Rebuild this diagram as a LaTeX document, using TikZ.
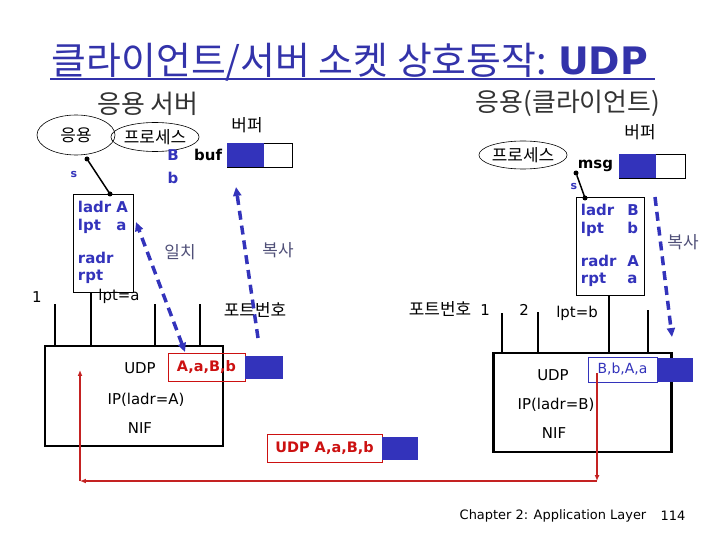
\documentclass[tikz,border=0pt]{standalone}
\usepackage{fontspec}
\setmainfont{DejaVu Sans}
\newfontfamily\kr{Noto Sans CJK KR}
\usetikzlibrary{positioning, arrows.meta, shapes.geometric}
\definecolor{ttl}{HTML}{3333AA}
\definecolor{sock}{HTML}{3333BB}
\definecolor{pkt}{HTML}{CC1111}
\definecolor{wirec}{HTML}{C42222}
\definecolor{note}{HTML}{505078}

\begin{document}
\begin{tikzpicture}[
  x=1bp, y=-1bp,
  every node/.style={inner sep=0pt, outer sep=0pt},
  kor/.style={font=\kr\fontsize{17}{17}\selectfont},
  head/.style={font=\kr\fontsize{26}{26}\selectfont, text=black!80},
  proc/.style={ellipse, draw, line width=0.6pt, kor},
  buffer/.style={rectangle, draw, line width=0.8pt, minimum height=24bp},
  lbl/.style={font=\bfseries\fontsize{15}{18}\selectfont, text=sock},
  plain/.style={font=\fontsize{15}{15}\selectfont},
  sockbox/.style={rectangle, draw, line width=0.9pt, lbl, align=left},
  stack/.style={rectangle, draw, line width=3pt, minimum width=178bp},
  port/.style={line width=1.3pt},
  redpkt/.style={rectangle, draw=pkt, line width=1pt, text=pkt,
    font=\bfseries\fontsize{14.5}{14.5}\selectfont, minimum height=28bp},
  payload/.style={rectangle, fill=sock, minimum height=23bp},
  flow/.style={draw=sock, line width=3.5pt, dash pattern=on 9pt off 6pt,
    -{Triangle[length=9pt,width=8pt]}},
  wire/.style={draw=wirec, line width=1.4pt, -{Latex[length=6pt,width=5pt]}},
  dot/.style={circle, fill, minimum size=6bp},
]
\useasboundingbox (0,0) rectangle (720,540);

% title
\node[font=\kr\fontsize{38}{38}\selectfont, text=ttl] (title) at (350,62)
  {클라이언트/서버 소켓 상호동작: {\normalfont\bfseries UDP}};
\draw[ttl, line width=2.5pt] (50,79) -- (655,79);

% server side
\node[head] (srvhead) at (148,104) {응용 서버};
\node[proc, minimum width=78bp, minimum height=40bp] (app) at (76,135) {응용};
\node[proc, minimum width=76bp, minimum height=29bp] (lproc) at (155,137) {프로세스};
\node[kor] (lbuflbl) at (247,125) {버퍼};
\node[buffer, minimum width=65bp] (lbuf) at (259.5,155) {};
\fill[sock] (lbuf.north west) rectangle ([xshift=37bp]lbuf.south west);
\node[font=\bfseries\fontsize{15}{15}\selectfont, left=5pt of lbuf] (lbufname) {buf};
\node[lbl] (bigb) at (173,155) {B};
\node[lbl] (smallb) at (173,178) {b};
\node[lbl, font=\bfseries\fontsize{11}{11}\selectfont] (ls) at (74,175) {s};

\node[sockbox, minimum width=60bp, minimum height=98bp] (lsock) at (103,243)
  {\begin{tabular}{@{}l@{\hspace{3pt}}l@{}}ladr&A\\lpt&a\\[15pt]radr&\\rpt&\end{tabular}};
\node[dot, minimum size=5bp] (ldot) at (87,159) {};
\coordinate (ltop) at (110,194);
\draw[line width=1.5pt] (ldot) -- (ltop);
\fill (ltop) circle (2.5bp);

\node[stack, minimum height=100bp] (lstack) at (134,396) {};
\node[plain] (ludp) at (140,368) {UDP};
\node[plain] (lip) at (146,400) {IP(ladr=A)};
\node[plain] (lnif) at (140,428) {NIF};

\draw[port] (55,304) -- (55,304 |- lstack.north);
\draw[port] (91,0 |- lsock.south) -- (91,0 |- lstack.north);
\draw[port] (155,304) -- (155,304 |- lstack.north);
\draw[port] (200,304) -- (200,304 |- lstack.north);
\node[plain] (lone) at (37,297) {1};
\node[plain] (llpt) at (119,296) {lpt=a};
\node[kor] (lportlbl) at (255,310) {포트번호};

\node[redpkt, minimum width=77bp] (lpkt) at (206.5,367) {A,a,B,b};
\node[payload, minimum width=38bp, anchor=west] (lpay) at (lpkt.east) {};

\coordinate (matchlo) at (185,352);
\coordinate (matchhi) at (136,222);
\draw[flow, {Triangle[length=9pt,width=8pt]}-{Triangle[length=9pt,width=8pt]}] (matchlo) -- (matchhi);
\node[kor, text=note] (match) at (180,252) {일치};

\coordinate (lcopylo) at (258,338);
\coordinate (lcopyhi) at (236,187);
\draw[flow] (lcopylo) -- (lcopyhi);
\node[kor, text=note] (lcopy) at (278,250) {복사};

% packet on the wire
\node[redpkt, minimum width=115bp] (mpkt) at (324.5,448) {UDP A,a,B,b};
\node[payload, minimum width=36bp, anchor=west] (mpay) at (mpkt.east) {};

% client side
\node[head] (clihead) at (568,103) {응용(클라이언트)};
\node[kor] (rbuflbl) at (640,132) {버퍼};
\node[proc, minimum width=83bp, minimum height=28bp] (rproc) at (523,155) {프로세스};
\node[buffer, minimum width=66bp] (rbuf) at (652,166) {};
\fill[sock] (rbuf.north west) rectangle ([xshift=37bp]rbuf.south west);
\node[font=\bfseries\fontsize{15}{15}\selectfont, left=6pt of rbuf] (rbufname) {msg};
\node[lbl, font=\bfseries\fontsize{11}{11}\selectfont] (rs) at (574,187) {s};

\node[sockbox, minimum width=68bp, minimum height=98bp] (rsock) at (610,246)
  {\begin{tabular}{@{}l@{\hspace{11pt}}l@{}}ladr&B\\lpt&b\\[15pt]radr&A\\rpt&a\end{tabular}};
\node[dot, minimum size=5bp] (rdot) at (576,173) {};
\coordinate (rtop) at (585,198);
\draw[line width=1.5pt] (rdot) -- (rtop);
\fill (rtop) circle (2.5bp);

\node[stack, minimum height=99bp] (rstack) at (582,402.5) {};
\node[plain] (rudp) at (553,375) {UDP};
\node[plain] (rip) at (556,405) {IP(ladr=B)};
\node[plain] (rnif) at (554,433) {NIF};

\draw[port] (502,313) -- (502,313 |- rstack.north);
\draw[port] (538,312) -- (538,312 |- rstack.north);
\draw[port, line width=2.5pt] (609,0 |- rsock.south) -- (609,0 |- rstack.north);
\draw[port] (648,310) -- (648,310 |- rstack.north);
\node[kor] (rportlbl) at (440,309) {포트번호};
\node[plain] (rone) at (485,310) {1};
\node[plain] (rtwo) at (524,310) {2};
\node[plain] (rlpt) at (577,313) {lpt=b};

\node[rectangle, draw=sock, line width=0.8pt, fill=white, text=sock,
  font=\fontsize{14}{14}\selectfont, minimum width=69bp, minimum height=25bp]
  (rpkt) at (622.5,369.5) {B,b,A,a};
\node[payload, minimum width=36bp, minimum height=24bp, anchor=west] (rpay) at (rpkt.east) {};

\coordinate (rcopyhi) at (655,197);
\coordinate (rcopylo) at (672,337);
\draw[flow] (rcopyhi) -- (rcopylo);
\node[kor, text=note] (rcopy) at (683,242) {복사};

% red path from client to server
\coordinate (rdrop) at (597,373);
\coordinate (rcorner) at (597,481);
\coordinate (lcorner) at (80,481);
\coordinate (lrise) at (80,370);
\draw[wire] (rdrop) -- (rcorner);
\draw[wire] (rcorner) -- (lcorner);
\draw[wire] (lcorner) -- (lrise);

% footer
\node[font=\fontsize{13}{13}\selectfont] (chap) at (553,516) {Chapter 2: Application Layer};
\node[font=\fontsize{13}{13}\selectfont] (pageno) at (673,516) {114};
\end{tikzpicture}
\end{document}
